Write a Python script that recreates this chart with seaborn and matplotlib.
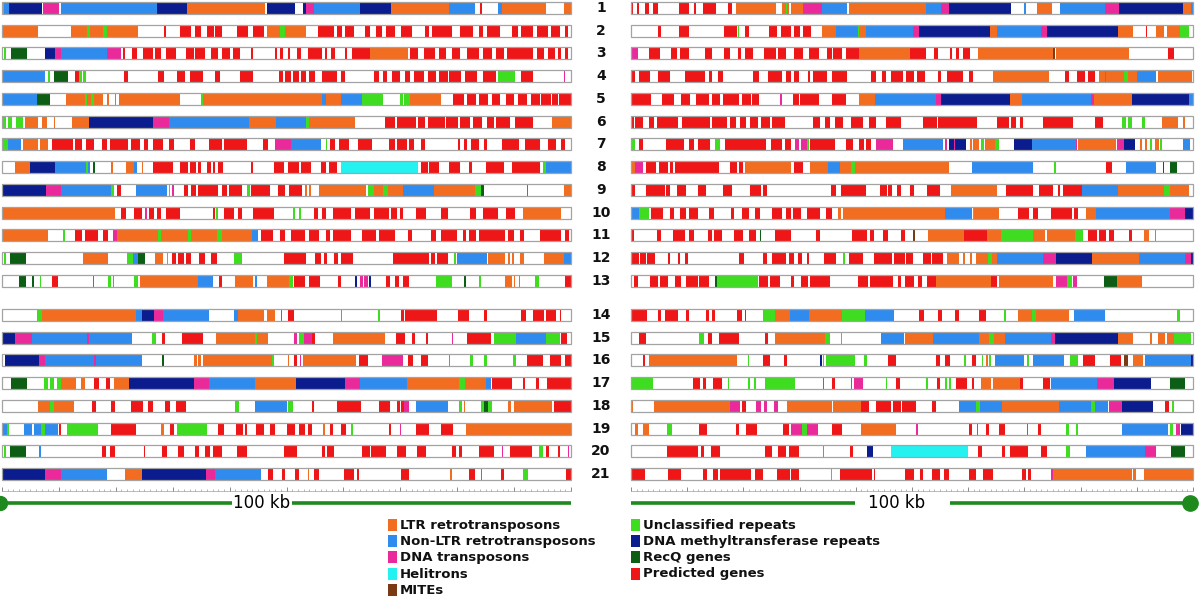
import numpy as np
import pandas as pd
import matplotlib
matplotlib.use("Agg")
import matplotlib.pyplot as plt
import seaborn as sns
from matplotlib.patches import Rectangle

# ------------------------------
# 범주 / 색상
# ------------------------------
category_codes = ["L", "N", "D", "H", "M", "U", "T", "R", "G"]
category_names = ["LTR retrotransposons", "Non-LTR retrotransposons", "DNA transposons",
                  "Helitrons", "MITEs", "Unclassified repeats",
                  "DNA methyltransferase repeats", "RecQ genes", "Predicted genes"]
category_colors = ["#F26D1F", "#2F8BEE", "#EA2A9B", "#24F2F0", "#7A3A14",
                   "#3FDD20", "#0B1C8E", "#0C5E14", "#EE1616"]

row_labels = [str(i) for i in range(1, 22)]

# 각 트랙: "코드start-end" (kb, 0-100)
left_tracks = [
    "U0-0.4 N0.4-1.3 T1.3-7.1 D7.2-10.1 N10.4-27.3 T27.3-32.5 L32.5-46.3 T46.5-51.5 T52.9-53.5 D53.5-54.9 N54.9-63 T63-68.4 L68.4-78.5 N78.5-83.2 G84-84.4 N87.2-87.9 L87.9-95.6 L98.7-100",
    "L0-6.4 L12.1-15 U15-15.5 L15.5-17.8 U17.8-18.4 L18.4-23.9 G28.5-28.8 G31.3-33.3 G34-35 G36-37.2 G37.5-38.6 G41.3-43.3 G44.1-46 L46.5-48.8 U48.8-49.8 L49.8-53.5 G55.6-58.3 G58.8-59.8 G60.3-61.8 G63.8-64.7 G65.7-66.7 G67.5-69 G70.2-72 G74.3-75 G75.6-79.1 G80.5-82.8 G83.8-84.5 G85.2-87.5 G89.6-90.6 G91.3-93.3 G94-96 G96.5-98 G99-99.5",
    "U0.3-0.7 R1.5-4.4 T7.6-9.4 D9.4-10.4 N10.4-18.5 D18.5-20.9 G21.2-21.7 G22.8-23.8 G24.7-26.6 G26.9-27.9 G28.8-30.5 G32.3-33.7 G34-35.7 G36.7-38 G38.7-40 G40.6-41.8 G43.8-44.2 G48-48.3 G48.8-49.4 G50.2-50.6 G51.9-52.5 G53.7-56.2 G56.8-57.2 G57.9-58.6 G60.3-60.6 G61.5-64.7 L64.7-71.4 G71.7-73.1 G74.1-76.1 G76.8-78.1 G79.1-80.5 G81.8-83.8 G84.5-86.1 G86.9-88.2 G88.7-93.3 G94-95.3 G96-97.2 G97.8-98.3 G99-99.5",
    "N0-7.6 U8.1-8.4 R9.1-11.6 G12.8-13.5 U13.6-14 U14.3-14.7 G21.4-22.2 G27.4-28.5 G30.8-32.2 G33.1-35.4 G37.5-38.4 G41.8-44.2 G48.7-49.4 G49.8-50.8 G51.2-52.2 G52.5-53.5 G53.9-55 G56.2-58.9 G59.6-60.3 G65.3-66.3 G67-67.7 G68.6-70 G70.9-71.7 G72.4-74.1 G74.8-76.3 G76.8-78.3 G78.6-80.6 G81.3-83.5 G84.5-86.9 U87.1-90.2 G91.2-93.3 D98.7-99",
    "N0-6.1 R6.1-8.4 L11.3-14.5 U14.5-15 L15-15.7 U15.7-16.2 L16.2-17.8 L18.5-18.8 L19.9-20.1 L20.5-31.2 U35-35.4 L35.4-56.2 N56.2-57 L57-59.6 N59.6-63.3 U63.3-67 U70-70.5 U70.7-71.7 L71.7-77.1 G79.3-81.2 G81.7-83.3 G83.8-85.5 G86.2-87.5 G88.6-90 G90.6-92.3 G93-94.6 G94.8-96.5 G96.7-97.7 G97.9-100",
    "U0-0.7 U1-1.7 U2.4-3.7 L4-6.4 L7.1-7.9 L9.1-9.4 L12.3-15.3 T15.3-26.6 D26.6-29.3 N29.3-43.4 L43.4-48.2 N48.2-53.5 U53.5-53.9 L53.9-62 G67.3-69 G69.4-72.7 G73.1-74.4 G74.8-77.8 G78.1-80.1 G80.5-82.2 G82.8-84.4 G85.2-86.5 G86.9-89.2 G90.2-93.3 L96.6-100",
    "U0-1 N1-3.4 L3.7-6.4 L6.7-8.1 G8.8-12.5 G12.8-14.1 G14.8-16.2 G17.5-18.5 G19-22.1 G22.6-24.2 G24.9-25.6 G26.6-28.3 G29.3-30.3 G33.1-33.9 G36.4-38.7 G39.1-43.1 G45.8-46.8 D48-50.8 N50.8-56.1 U56.9-57.2 G57.6-58.6 G59.3-61 G62.6-65 G68-69 G69.4-71.2 G71.6-72.4 G73.6-74.4 G80.1-80.5 G81.2-81.8 G82.5-83.8 G84.7-85.3 G87.9-90.9 G92-94.6 G96-97.3 G98.3-99",
    "L2.2-4.9 T4.9-9.4 N9.4-14.8 U14.8-15.1 N15.1-15.5 R16-16.4 L19.2-19.5 L21.8-23.2 N23.2-23.7 L24.6-24.8 G26.6-30 G31.3-32.7 G33-34.1 G34.5-34.9 G36-36.7 G37.1-37.5 G38-38.9 G43.8-44.2 G47.8-49.6 G50.3-52.2 G52.5-54.3 G56.1-57 G57.4-58.9 H59.5-73.1 G73.7-74.8 G75.1-76.8 G78.5-80.5 G82-82.6 G85-88.2 G89.6-94.5 U95-95.6 N95.6-100",
    "T0-7.7 D7.7-10.4 N10.4-19.1 U19.1-19.7 G20.2-20.9 N23.6-29 U29.3-29.5 D29.8-30.3 G32-32.7 G33.3-34.1 G34.5-37.9 G38.7-39.5 G39.9-42.2 U43.1-43.6 G43.8-47.1 G48.5-49.8 G50.5-52.7 L53.3-53.6 L54-54.3 L55.7-64 U64.3-65.3 L65.3-67 U67-67.8 L67.8-70.5 N70.5-75.9 L75.9-83.2 U83.2-84.2 R84.2-84.7 D92.3-92.5 L98.7-100",
    "L0-19.9 G20.9-21.8 G23.2-24.6 D25.2-25.4 G25.9-26.7 G27.3-28 G28.8-31.3 G37-37.5 U37.6-38 G39.1-40.7 G41.5-42.2 G44.1-47.8 U51.2-51.5 U52.2-52.5 G54.9-55.6 G56.2-56.9 G58.1-61.3 G62-64.7 G65.3-68 G68.4-69.4 G70-70.5 G72.7-74.5 G77.1-78.3 G82.2-83.3 G84.6-87.2 G88.6-90.2 L91.6-98.3",
    "L0-8.1 U10.8-11.1 G12.8-14 G14.5-16.8 G17.8-18.7 D19.5-20.2 L20.2-27.4 U27.4-28 L28-32.7 U32.7-33.3 L33.3-37.7 U37.7-38.6 L38.6-44 N44-45 G45.6-47.6 G48.8-49.8 G50.8-53.2 G53.9-55.7 G56.9-57.7 G58.1-61.3 G63.3-65.8 G66.3-69 G71.4-72 G75.4-76.3 G77.2-80 G81-81.5 G82-83.3 G83.8-88.4 G88.9-90 G91.1-91.8 G94.5-98.3 G99-99.7",
    "U0.4-0.7 R1.4-4.2 L14.3-18.7 U22-23.1 N23.1-23.9 R23.9-25.1 L26.9-28.3 U29-29.2 G29.8-30.6 G31-32 G32.3-33.2 G34.7-35.7 G36.8-37.7 U40.7-42.1 G49.6-53.5 G55-56.1 G56.6-57.2 G58.4-59.1 G59.6-61.6 G68.7-75.1 G75.4-76.1 G76.4-78.3 U79.5-79.8 N79.9-85.3 L85.5-88.4 L88.9-89.2 L89.7-90 L91-91.8 L95.3-98.7 N98.7-100",
    "R3-4.2 R5.2-5.6 U6.6-6.9 G8.8-9.8 D16-16.2 U18.7-19.2 L19.5-19.7 U23.2-23.9 L24.2-34.4 N34.4-37.1 G38.2-38.7 L40.9-44.1 N44.4-44.9 L46.5-50.5 U50.5-51.2 G51.4-53.2 G53.9-55.9 G59.1-59.5 T62-62.4 D63-63.4 D63.7-64.3 T64.5-64.8 G67.5-68.2 G69-69.7 G70.4-71.6 U76.3-79.1 R81.2-81.5 U83.8-84.2 L88.4-89.6 L90-90.2 L90.8-91 U93.6-94.3 G99-100",
    "U6.1-7.1 L7.1-23.6 N23.6-24.6 T24.6-26.8 D26.8-28.3 N28.3-36.4 N40.7-41.5 L41.5-46 L46.5-48 D49-49.2 G50.3-51.4 L59.5-59.8 U66-66.5 G70.2-70.7 G70.9-76.4 G80.1-82 G84.7-85.2 G91.3-92.1 G93.3-95.2 G95.6-97.3 G98-98.3",
    "T0-2.2 D2.2-5.3 N5.3-15 D15-15.3 N15.3-22.9 U26.3-27 G28.1-28.6 G31.7-35.4 L37.6-44.4 U44.4-44.9 L44.9-46.7 D51.4-51.9 U52.2-53 D53-54.5 G54.5-55 L58.1-67.3 G69.2-70.9 G72.1-72.5 G74.5-74.9 D79-79.2 G81.7-85.9 U86.5-90.4 N90.4-95.6 U95.6-98 G98.3-99.3",
    "T0.5-6.5 D6.5-7.6 N7.6-16.2 D16.2-16.6 N16.6-24.6 R28.1-28.4 L33.7-34.2 L34.5-35 L35.4-47.5 U47.5-47.8 L50.2-50.5 G51.4-51.9 D52.3-52.5 L52.9-62.3 G62.8-64.4 D66.7-70.5 G71.4-72.3 G73.7-74.9 L78.5-78.8 U82.2-82.8 U84.7-85.3 U89.8-90.4 G92.3-95 G96.3-98.3 G99-100",
    "R1.5-4.4 U7.4-8.1 U8.4-9.1 U9.6-10.3 L10.4-13 L13.8-14.5 G16.2-17 G18.2-18.9 L19.7-22.4 T22.4-33.7 D33.7-36.4 N36.4-44.4 L44.4-51.6 T51.6-60.3 D60.3-63 N63-71.2 L71.2-80.3 U80.3-81.3 L81.3-85.1 N85.1-85.9 G86.2-89.6 G91.6-91.9 G93.8-94.3 G95.8-100",
    "L6.4-8.4 U8.4-9.2 L9.2-12.6 G15.8-16.6 G19.1-19.9 G22.6-24.7 G25.6-26.6 G28.6-29.6 G30.5-32.3 U40.9-41.6 N44.4-50 U50.3-51.2 G54.5-54.8 G58.8-63.1 G66.2-68.2 G69.4-70 G70.2-70.6 D70.7-71.6 N72.7-78.3 U80.4-80.8 L81.2-81.4 U84.2-84.7 R84.7-85.5 U85.5-86.2 L88.9-89.4 L89.9-96.6 G97-100",
    "N0-0.9 U0.9-1.2 N3.8-5.2 N5.6-6.9 U6.9-7.6 N7.6-9.8 G10-10.3 U11.4-16.8 G19.2-23.6 L28-28.5 G29.6-30.3 U30.8-36 G38-39 G41.1-42.4 G42.7-43 G44.6-46.1 G47.1-48 G50-51.5 G52.2-53.2 G53.7-54.4 L56.5-56.8 G57.6-58.1 G59.5-60.4 U61.4-61.7 G68-68.3 D70-70.2 G72.7-75.1 G77.2-79.3 L81.5-100",
    "U0.4-0.7 R1.4-4.2 N6.5-6.8 G17.6-18.2 G18.9-19.9 G24.9-25.2 G28.1-29 G31-32 G34-34.7 G35.7-36.6 G37.1-38.6 G41.3-43.1 G49.5-51.9 G56.2-56.8 G57.1-58.3 G63.3-64.7 G64.9-67.5 G69.4-71 G72.9-74.5 G79.1-79.8 G80.3-80.8 G83.8-86.4 D87.9-88.1 G89.2-93.1 U94.3-95 G95.6-96.1 G97.7-98.1 D99.4-99.6",
    "T0-7.6 D7.6-10.4 N10.4-18.5 L21.6-24.6 T24.6-35.9 D35.9-37.5 N37.5-45.6 G46.7-47.6 G49.2-49.8 G51.5-52.2 L53.8-54 G54.9-55.7 G60.1-61.8 G62.4-62.8 G70.2-71.6 L78.8-79 G82-83.2 N84.2-84.4 G87.7-88.2 U91.6-92.5 G99.2-100",
]

right_tracks = [
    "G0-0.4 G1.1-1.5 G2.5-3.2 G3.9-4.8 G8.5-10.4 G11.2-11.5 G12.8-15.2 G17.2-17.9 L18.7-25.8 L26.8-27.5 U27.5-27.8 L27.8-28.2 L28.5-30.6 D30.6-34 N34-38.4 L38.8-52.5 N52.5-55.2 D55.2-56.6 T56.6-67.7 N69.9-70.3 L72.3-74.9 N76.4-84.3 D84.3-86.9 T86.9-98.3 L98.3-99.7 N99.7-100",
    "G4.8-5.3 G8.5-10.4 G16.6-18.9 U19.1-19.3 G20.3-21 G24.6-26 G26.7-28.5 G29-30.1 G30.6-32.1 L34-36.4 N36.4-40.4 U40.4-40.6 L40.6-41.9 N41.9-50.2 D50.2-51.3 T51.3-63.9 L63.9-65.1 N65.1-73 D73-74.1 T74.1-86.7 L86.7-89.4 G91.6-91.9 L93.5-94.9 L95.3-97.6 U97.6-99.3",
    "D0-1.2 G3.2-5.1 G7.1-8.2 G8.7-10.3 G13.1-14.4 G16.6-17.6 G19.1-19.5 G20.3-21.7 G23.7-25.8 G26.1-27.6 G29-30.6 G31.6-33.5 G34.9-35.8 G36-37.6 G38.3-40.5 L40.5-49.7 G49.7-52.5 G54-54.7 G56.8-57.2 G57.9-58.4 G59-60.3 L61.7-75 M75.1-75.5 L75.6-88.7 G95.6-96.6",
    "G0-0.7 G1.4-3.4 G4.8-7 G9.6-13.1 G13.8-14.5 G15.5-16.4 G21.7-22.8 G24.4-26.9 G27.5-28.5 G29-29.9 G31.5-31.8 G32.4-34.9 G35.8-38.4 G42.7-43.6 G44.6-45.4 G46.3-48.4 G49-50.4 G50.9-52.3 G54.6-55.2 G56.2-59 G60.2-60.9 L64.4-74.4 G77.3-78 G79.3-80.7 G81.4-82.6 L83.2-84.3 N84.3-84.6 L84.6-87.7 U87.7-88.4 L88.4-90.1 N90.1-93.5 L93.8-99.9",
    "G0-3.6 G5.6-7.7 G8.9-10.5 G11.6-13.8 G14.4-15.9 G16.4-19.2 G19.8-21.3 G21.5-22.7 D26.6-26.8 G28.9-29.9 G30.1-33.5 G35.7-38.3 L40.6-43.4 N43.4-54.3 D54.3-55.2 T55.2-67.5 L67.5-69.6 N69.6-81.9 D81.9-82.4 L82.4-89.2 T89.2-99.2 N99.2-100",
    "G0-0.5 G0.7-2.1 G3.2-4.1 G4.6-8.3 G9-14 G14.4-17.1 G17.6-18.7 G19.4-20.5 G21.2-22.6 G23.2-24.8 G25.1-27.4 G32.4-33.7 G34.5-35.4 G36.3-37.8 G39.1-41.2 G42.4-43.6 G45.3-48 G52-54.4 G54.7-61.6 G65.1-67.2 G67.7-68.5 G69.2-69.8 G73.3-78.7 G82.6-83.9 U87.3-88 U88.4-89.1 U91-91.5 L94.5-97.3 L98.2-98.5",
    "U0-0.8 G1.4-2.1 G6.3-9.4 G10.4-11.2 G11.9-14 U15-15.9 G16.7-24.1 G24.9-26.8 G27.4-28.5 D29.2-29.9 D30.3-31.3 U31.3-31.6 G31.9-36.3 G38.3-39.5 G40.5-41.5 G41.9-42.7 D43.6-46.6 N48.4-55.5 D55.8-56.2 T56.6-57.4 D57.4-57.7 T57.7-59.6 L60.4-60.7 L60.9-62 U62.2-62.9 L63-64.8 U64.8-65.5 T68.2-71.3 N71.3-79.1 D79.1-79.4 L79.5-86.3 D86.5-87.8 T87.8-89.6 L90.6-91 L91.4-91.8 U92.3-92.7 L93.2-94 U94.2-94.5 N98.3-99.5",
    "L0-0.7 D0.7-2.1 G2.7-4.4 G4.9-6.6 G7-7.4 G7.8-15.7 G17.6-18.9 G19.3-20 L20.3-28.5 G29-30.6 L31.9-35 N35-37.2 L37.2-39.1 U39.1-39.8 L39.8-56.6 N60.7-71.6 U75.2-75.7 G84.6-85.6 N88-93.5 R94.6-94.9 R95.9-97.1",
    "G0-0.7 G2.7-6 G6.3-7 G8.2-9.8 G11.9-13.3 G16.4-17.9 G21.2-23.1 G23.5-24.2 G35.5-36.4 G37.4-41.9 G44.3-45.6 G45.8-46.5 G47.3-48 G49.7-50.4 G52.7-54.9 L57-65.1 G66.8-71.6 G72.6-75 G75.9-76.4 G76.9-80.2 N80.2-86.7 L86.7-94.9 U94.9-95.9 L95.9-99.3",
    "N0-1.5 U1.5-3.2 G3.6-5.7 G7-7.7 G8.7-9.8 G10.4-11.9 G13.8-14.8 G17.8-18.3 G19.8-21 G22-23 G25.1-26.9 G27.5-28.5 G28.9-30.2 G31.3-33.7 G34.7-35.7 L36.9-37.3 L37.8-55.9 N55.9-60.7 U60.8-61 L61-65.5 G68.9-70.9 G71.6-72.5 G74.8-78.5 G78.8-79.5 L81-82.8 N82.8-95.9 D95.9-98.6 T98.6-100",
    "G0-0.5 G4.6-5.3 G7.5-9.6 G10.4-11.2 G13.7-14.5 G14.8-16.2 G18.3-20 G21-22.2 R23-23.2 G25.6-28.5 G33-33.7 G39.3-42 G42.5-43.2 G44.9-45.8 G48-48.7 M50.2-50.6 L52.8-59.3 G59.3-63.4 L63.4-65.8 U65.8-71.6 L71.6-73.7 L74-79 U79-80.5 G81.4-82.9 G83.2-84.6 G85.1-86 G88.7-89.2 L91.2-92.1 L93.3-93.5",
    "G0-1.4 G1.6-2.7 G2.9-4.2 G6.6-7 G8.3-8.8 G9.6-10.1 G19.2-20.1 G23.5-24.2 G25.1-27.6 G28.2-29 G29.7-30.4 G31.3-31.6 G34.3-36.4 U37.7-38 G38.8-41.2 G43.2-46.5 G46.8-48.7 G49-50.2 G52-53.4 G53.5-55.5 L56.2-58.3 L59-59.4 L60.3-60.6 L61.4-63.6 U63.6-64.3 L64.3-65.1 N65.1-73.3 D73.3-75.7 T75.7-82.1 L82.1-90.4 N90.4-98.6 D98.6-99.7 T99.7-100",
    "G0.5-1.2 G3.4-4.8 G5.1-6.6 G7.8-8.9 G9.7-11.9 G12.1-13.8 R15-15.3 U15.3-22.6 G22.7-24.4 G24.8-26.5 G28.5-29 G30.2-31.5 G31.9-35.4 G40.4-42.2 G42.5-46.6 G47.5-48 G48.8-50.4 G51.1-51.8 G52.7-54.3 L54.3-64.1 G64.1-65.1 L65.5-75 D75.7-77.6 U77.6-78.5 D78.7-79.3 R84.1-86.5 L86.5-91",
    "G0-2.9 G4.8-5.3 G6.1-8.3 G9.8-10.4 G13.3-13.8 G14.4-15 G18.9-19.8 G20.3-20.5 U23.4-25.6 L25.6-28.3 N28.3-31.7 L31.7-37.6 U37.6-41.7 N41.7-46.8 G51.3-52.1 G54.7-55.4 G57.7-58.4 G62-63.1 U66.3-66.7 L68.9-71.3 U71.3-72 L72-78 N78.8-84.4 U97.1-97.6",
    "G1.5-2.7 U12.1-13 G13.7-14.4 G15.7-19.2 G23.9-24.4 L25.6-34.5 U34.5-35.4 U37.4-37.6 N44.5-48.6 L48.7-53.8 N53.8-62 L62-63.7 U63.7-64.6 L64.6-66.6 N66.6-74.8 D74.8-75.5 T75.5-86.7 L86.7-89.4 L92.4-92.7 L93.7-95.1 L95.3-96.6 U96.6-99.7",
    "G2.1-2.5 L3.2-18.9 U20.8-21 G23.5-24.8 G27.2-27.8 T33.6-33.9 U34.1-34.3 U34.7-39.9 U41.5-42 G45.8-47.2 G54.3-54.9 G55.9-56.8 U59.3-59.6 G60.7-61.4 U62.4-62.7 L63.2-63.5 U63.7-64 N64.8-70 U70.4-70.9 N71.6-77.1 U78.1-79.5 G80.5-82.6 G85.3-87.1 M87.8-88.5 L89.4-91.1 N91.4-99.7 T99.7-100",
    "U0-3.9 G11.1-12.3 G12.8-13.3 G14.6-16.2 U17.2-17.4 U20.8-21.2 U21.9-22.2 U23.9-29.2 D34.2-34.4 G35.8-36.3 D39.2-39.4 D39.7-41.3 U45.4-45.6 G47.2-47.9 U52.5-52.8 G54.5-54.9 U55.9-56.3 U56.6-56.9 G57.9-59.8 G60.7-61.1 L62.2-64.1 L64.4-69.2 G69.3-69.7 G73.3-74.6 N74.7-82.9 D82.9-86 T86-92.6 R95.9-98.5",
    "L0-0.4 L4.1-17.6 D17.6-19.4 G19.8-20.5 D22.2-23.1 D23.7-24.2 D25.4-26.1 L27.8-35.7 L36-41 G41-42.4 G43.6-46.3 G46.6-48 G48.2-50.8 G53.6-54.2 N58.3-61.4 U61.4-62.1 N62.1-66.1 L66.1-76.1 N76.1-81.9 U81.9-82.6 N82.6-84.8 D85-87.3 T87.3-92.8 G95.1-95.8 U96.2-96.7",
    "L0.8-1.2 L2.1-3.2 U6.4-7.3 G12.1-13.5 G18.7-19.3 G20.5-22.4 G27-28.2 D28.5-30.4 U30.4-31.3 D31.3-33.3 G35.8-37.6 L41-47.2 D50.8-51 G60.2-60.7 D61.6-61.8 G63.1-63.7 G65.5-66.5 D70.4-70.6 G72.5-73 U77.4-78 U79.1-79.5 N87.3-95.6 U95.9-96.4 D96.9-97.6 T97.9-100",
    "G6.4-11.9 G12.5-13 G14.2-15.9 G23.9-25.1 G26.1-27.5 G28.2-29.9 L34.2-34.4 G39-39.5 T42-43.1 H46.3-60 G61.7-62.5 G66.1-66.6 G67.5-70.6 G73-74.1 U77.4-78.2 N81-91.5 D91.5-93.5 R96-98.5",
    "G0-2.5 G6.6-8.9 G12.8-13.5 G14.6-15.5 G15.9-21.3 G22.1-23.5 G26-28.3 G28.5-29.9 U35.6-35.8 G37.2-42.9 G43.2-43.4 G48.8-50.4 G51.4-52 G53.6-54.9 G55.7-56.6 G60.2-61.4 G62.7-64.4 G69.6-70.2 G70.6-71.1 D74.8-75 L75-89.2 L89.4-89.9 L91.2-100",
]

# ------------------------------
# 문자열 -> DataFrame
# ------------------------------
records = []
for side, tracks in [("left", left_tracks), ("right", right_tracks)]:
    for i, track in enumerate(tracks):
        for seg in track.split():
            a, b = seg[1:].split("-")
            records.append({"side": side, "row": i, "code": seg[0],
                            "start": float(a), "end": float(b)})
df = pd.DataFrame(records)
df["y"] = df["row"] + 0.5 * (df["row"] >= 13)   # 13번과 14번 사이 간격
row_y = np.arange(21) + 0.5 * (np.arange(21) >= 13)

palette = dict(zip(category_codes, category_colors))

sns.set_theme(style="white")
plt.rcParams["font.family"] = ["DejaVu Sans"]

fig = plt.figure(figsize=(12, 5.98), dpi=100)
ax_bottom = 1 - 520 / 598
ax_h = 520 / 598
ax_l = fig.add_axes([0, ax_bottom, 0.5, ax_h])
ax_r = fig.add_axes([0.5, ax_bottom, 0.5, ax_h])
ax_l.set_xlim(-2 / 5.69, 598 / 5.69)
ax_r.set_xlim((600 - 631) / 5.62, (1200 - 631) / 5.62)

bar_h = 0.53
ruler_y = 21.2
scale_y = 21.78

for ax, side in [(ax_l, "left"), (ax_r, "right")]:
    ax.set_ylim(22.52, -0.352)
    ax.axis("off")
    sub = df[df["side"] == side]
    ax.barh(row_y, 100, left=0, height=bar_h, color="white", linewidth=0, zorder=1)
    for code, g in sub.groupby("code"):
        ax.barh(g["y"], g["end"] - g["start"], left=g["start"], height=bar_h,
                color=palette[code], linewidth=0, zorder=2)
    ax.barh(row_y, 100, left=0, height=bar_h, fill=False,
            edgecolor="#a3a3a3", linewidth=0.9, zorder=3)

    # 눈금자
    ax.hlines(ruler_y + 0.05, 0, 100, color="#b0b0b0", linewidth=0.6)
    minor = np.arange(0, 101, 1)
    ax.vlines(minor, ruler_y - 0.05, ruler_y + 0.05, color="#9a9a9a", linewidth=0.5)
    major = np.arange(0, 101, 10)
    ax.vlines(major, ruler_y - 0.15, ruler_y + 0.05, color="#8a8a8a", linewidth=0.7)

# 스케일 바
green = "#1E8A1E"
ax_l.hlines(scale_y, -1, 40.4, color=green, linewidth=2.6)
ax_l.hlines(scale_y, 51, 100, color=green, linewidth=2.6)
ax_l.text(45.7, scale_y, "100 kb", ha="center", va="center", fontsize=12, color="black")
ax_l.plot([-2 / 5.69], [scale_y], "o", color=green, markersize=10, clip_on=False)
ax_r.hlines(scale_y, 0, 39.9, color=green, linewidth=2.6)
ax_r.hlines(scale_y, 56.8, 99.5, color=green, linewidth=2.6)
ax_r.text(47.2, scale_y, "100 kb", ha="center", va="center", fontsize=12, color="black")
ax_r.plot([99.5], [scale_y], "o", color=green, markersize=11, clip_on=False)

# 행 번호
for y, lab in zip(row_y, row_labels):
    ax_l.text((601 - 2) / 5.69, y, lab, ha="center", va="center",
              fontsize=10, fontweight="bold", color="#111111")

# 범례 (두 열)
legend_pos = [(388, 525), (388, 541), (388, 557), (388, 574), (388, 590),
              (631, 525), (631, 541), (631, 557), (631, 574)]
for (px, py), name, col in zip(legend_pos, category_names, category_colors):
    fig.add_artist(Rectangle((px / 1200, 1 - (py + 6) / 598), 9 / 1200, 12 / 598,
                             facecolor=col, edgecolor="none", transform=fig.transFigure))
    fig.text((px + 12) / 1200, 1 - py / 598, name, ha="left", va="center",
             fontsize=9.5, fontweight="bold", color="#111111")

fig.savefig("out.png", dpi=100)
